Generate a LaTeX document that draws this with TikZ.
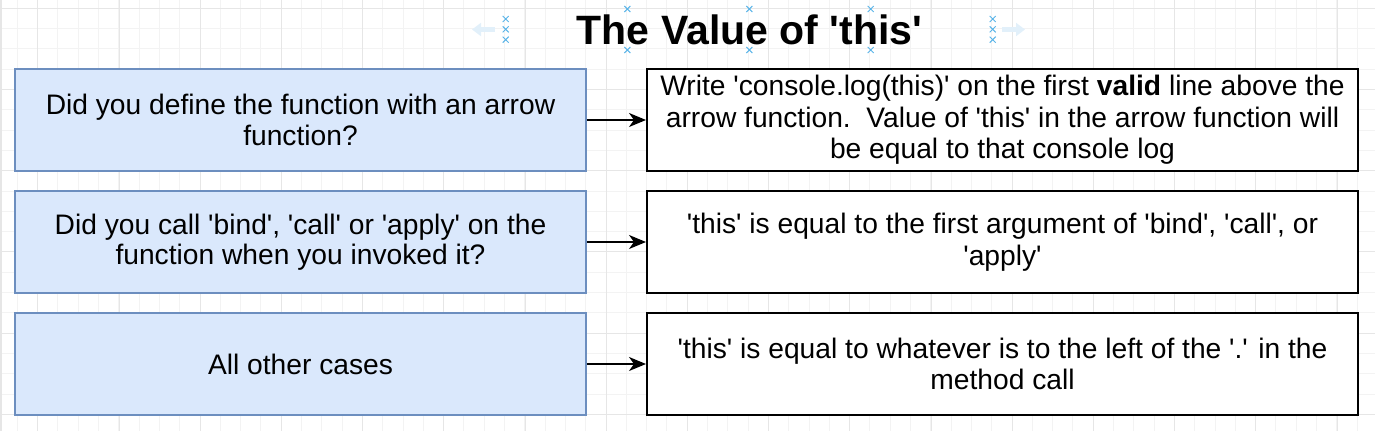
\documentclass[tikz,border=0pt]{standalone}
\usepackage{fontspec}
\newfontfamily\af{Liberation Sans}
\usetikzlibrary{arrows.meta}
\definecolor{lfill}{HTML}{DAE8FC}
\definecolor{lstroke}{HTML}{6C8EBF}
\definecolor{gminor}{HTML}{F3F3F3}
\definecolor{gmajor}{HTML}{E6E6E6}
\definecolor{handle}{HTML}{5AB4E8}
\definecolor{fadearrow}{HTML}{E2F0FA}
\tikzset{
  qbox/.style={draw=lstroke, fill=lfill, line width=1.6pt, minimum width=571pt, minimum height=102pt,
    inner sep=0pt, align=center, font=\af\fontsize{28.2}{30.5}\selectfont},
  abox/.style={draw=black, fill=white, line width=2pt, minimum width=711pt, minimum height=102pt,
    inner sep=0pt, align=center, font=\af\fontsize{28.2}{31.5}\selectfont},
  arr/.style={draw=black, line width=1.5pt, -{Stealth[length=17pt,width=14pt,inset=5pt]}},
  hx/.style={draw=handle, line width=1pt},
  titlestyle/.style={font=\af\bfseries\fontsize{41}{45}\selectfont, inner sep=0pt}
}
\newcommand{\hmark}[2]{\draw[hx] (#1-3,#2-3) -- (#1+3,#2+3) (#1-3,#2+3) -- (#1+3,#2-3);}
\begin{document}
\begin{tikzpicture}[x=1pt,y=-1pt]
\useasboundingbox (0,0) rectangle (1375,431);
% grid
\foreach \i in {0,...,68} {
  \draw[gminor, line width=1pt] ({17.3+20.3*\i},0) -- ({17.3+20.3*\i},431);
}
\foreach \j in {0,...,21} {
  \draw[gminor, line width=1pt] (0,{8.3+20.3*\j}) -- (1375,{8.3+20.3*\j});
}
\foreach \i in {0,...,16} {
  \draw[gmajor, line width=1pt] ({37.8+81.2*\i},0) -- ({37.8+81.2*\i},431);
}
\foreach \j in {0,...,5} {
  \draw[gmajor, line width=1pt] (0,{8.3+81.2*\j}) -- (1375,{8.3+81.2*\j});
}
\draw[gmajor, line width=2pt] (1,0) -- (1,431);
% title with selection handles
\draw[fadearrow, line width=5pt, -{Triangle[length=9pt,width=13pt]}] (495,29.5) -- (472,29.5);
\draw[fadearrow, line width=5pt, -{Triangle[length=9pt,width=13pt]}] (1002,29.5) -- (1025,29.5);
\node[titlestyle] (title) at (749.5,29.5) {The Value of 'this'};
\hmark{505.7}{19}\hmark{505.7}{29.3}\hmark{505.7}{39.7}
\hmark{992.7}{19}\hmark{992.7}{29.3}\hmark{992.7}{39.7}
\hmark{627.3}{9}\hmark{627.3}{50}
\hmark{749.3}{9}\hmark{749.3}{50}
\hmark{870.7}{9}\hmark{870.7}{50}
% questions
\node[qbox] (q1) at (300.5,120) {Did you define the function with an arrow\\function?};
\node[qbox] (q2) at (300.5,242) {Did you call 'bind', 'call' or 'apply' on the\\function when you invoked it?};
\node[qbox] (q3) at (300.5,364) {All other cases};
% answers
\node[abox] (a1) at (1002.5,120) {Write 'console.log(this)' on the first \textbf{valid} line above the\\arrow function.\ \ Value of 'this' in the arrow function will\\be equal to that console log};
\node[abox] (a2) at (1002.5,242) {'this' is equal to the first argument of 'bind', 'call', or\\'apply'};
\node[abox] (a3) at (1002.5,364) {'this' is equal to whatever is to the left of the '.' in the\\method call};
% connectors
\draw[arr] (q1) -- (a1);
\draw[arr] (q2) -- (a2);
\draw[arr] (q3) -- (a3);
\end{tikzpicture}
\end{document}
